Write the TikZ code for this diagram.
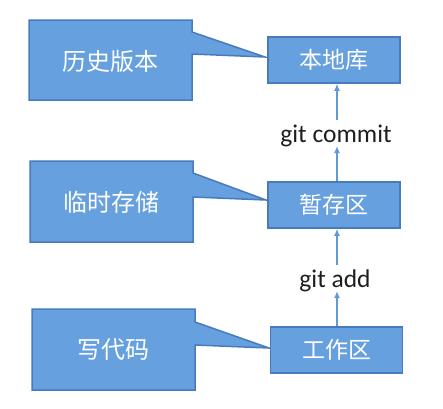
\documentclass[tikz,border=0pt]{standalone}
\usepackage{fontspec}
\setmainfont{Carlito}
\newfontfamily\cjk{Noto Sans CJK SC}
\usetikzlibrary{arrows.meta}
\definecolor{boxfill}{RGB}{102,160,222}
\definecolor{boxline}{RGB}{72,122,190}
\definecolor{arrcol}{RGB}{95,155,215}
\definecolor{txtcol}{RGB}{30,30,30}
\tikzset{
  shapeline/.style={fill=boxfill, draw=boxline, line width=1.5pt, line join=miter},
  stagebox/.style={shapeline, minimum width=132pt, minimum height=46pt, inner sep=0pt,
    font=\cjk\fontsize{23}{26}\selectfont, text=white},
  callouttext/.style={font=\cjk\fontsize{24}{28}\selectfont, text=white, inner sep=0pt},
  cmdlabel/.style={font=\fontsize{25.5}{28}\selectfont, text=txtcol, inner sep=0pt},
  arr/.style={draw=arrcol, line width=1.5pt, -{Latex[length=7pt,width=6pt]}}
}
\begin{document}
\begin{tikzpicture}[x=1pt,y=-1pt]
\useasboundingbox (0,0) rectangle (443,408);
% callouts
\path[shapeline] (29,20) -- (192,20) -- (192,32) -- (265,57) -- (192,54) -- (192,100) -- (29,100) -- cycle;
\node[callouttext] (c1) at (110,61) {历史版本};
\path[shapeline] (30,161) -- (193,161) -- (193,173) -- (266,200) -- (193,197) -- (193,242) -- (30,242) -- cycle;
\node[callouttext] (c2) at (111,202) {临时存储};
\path[shapeline] (32,309) -- (195,309) -- (195,322) -- (269,348) -- (195,345) -- (195,390) -- (32,390) -- cycle;
\node[callouttext] (c3) at (113,350) {写代码};
% stages
\node[stagebox] (repo) at (334,60) {本地库};
\node[stagebox] (stage) at (334,205) {暂存区};
\node[stagebox] (work) at (336.5,350) {工作区};
% labels
\node[cmdlabel] (gc) at (336,136) {git commit};
\node[cmdlabel] (ga) at (335,281) {git add};
\coordinate (gcb) at (337,146);
\coordinate (gct) at (337,120);
\coordinate (gab) at (337,291);
\coordinate (gat) at (337,265);
\draw[arr] (stage.north -| gcb) -- (gcb);
\draw[arr] (gct) -- (repo.south -| gct);
\draw[arr] (work.north -| gab) -- (gab);
\draw[arr] (gat) -- (stage.south -| gat);
\end{tikzpicture}
\end{document}
